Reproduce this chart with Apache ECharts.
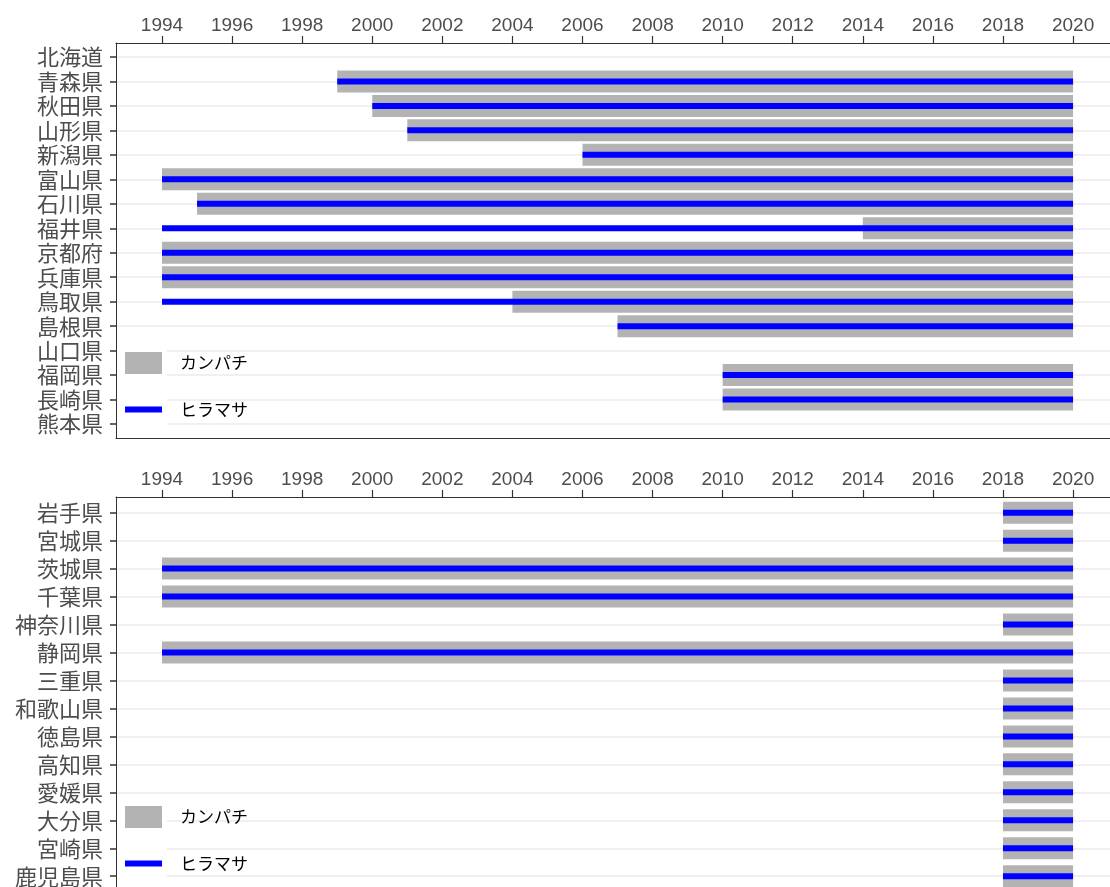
<!DOCTYPE html>
<html>
	<head>
		<meta charset="UTF-8">
		<title></title>
		<script src="https://cdn.jsdelivr.net/npm/echarts@6.0.0/dist/echarts.min.js"></script>
		<style>
			body { margin: 0; background: #fff; }
		</style>
	</head>
	<body>
		<div id="chart" style="width: 1110px; height: 887px;"></div>
		<script type="text/javascript">
			// 都道府県ごとの開始年（カンパチ・ヒラマサ）、終わりはどれも2020年
			var yearTicks = [1994, 1996, 1998, 2000, 2002, 2004, 2006, 2008, 2010, 2012, 2014, 2016, 2018, 2020];
			var endYear = 2020;

			var topPrefs = ['北海道', '青森県', '秋田県', '山形県', '新潟県', '富山県', '石川県', '福井県',
				'京都府', '兵庫県', '鳥取県', '島根県', '山口県', '福岡県', '長崎県', '熊本県'];
			var topKanpachi = [null, 1999, 2000, 2001, 2006, 1994, 1995, 2014, 1994, 1994, 2004, 2007, null, 2010, 2010, null];
			var topHiramasa = [null, 1999, 2000, 2001, 2006, 1994, 1995, 1994, 1994, 1994, 1994, 2007, null, 2010, 2010, null];

			var bottomPrefs = ['岩手県', '宮城県', '茨城県', '千葉県', '神奈川県', '静岡県', '三重県',
				'和歌山県', '徳島県', '高知県', '愛媛県', '大分県', '宮崎県', '鹿児島県'];
			var bottomKanpachi = [2018, 2018, 1994, 1994, 2018, 1994, 2018, 2018, 2018, 2018, 2018, 2018, 2018, 2018];
			var bottomHiramasa = [2018, 2018, 1994, 1994, 2018, 1994, 2018, 2018, 2018, 2018, 2018, 2018, 2018, 2018];

			var GRAY = '#B3B3B3';
			var BLUE = '#0000FF';
			var AXIS = '#333333';
			var TXT = '#4D4D4D';

			function toRanges(starts) {
				var out = [];
				for(var i = 0; i < starts.length; i++) {
					if(starts[i] != null) out.push([starts[i], endYear, i]);
				}
				return out;
			}

			function seq(n) {
				var a = [];
				for(var i = 0; i < n; i++) a.push(i);
				return a;
			}

			// 横棒は幅を固定ピクセルで描く
			function rangeRender(h) {
				return function(params, api) {
					var s = api.coord([api.value(0), api.value(2)]);
					var e = api.coord([api.value(1), api.value(2)]);
					return {
						type: 'rect',
						shape: { x: s[0], y: s[1] - h / 2, width: e[0] - s[0], height: h },
						style: { fill: api.visual('color') }
					};
				};
			}

			var xMin = 1992.687, xMax = 2021.054;

			function topXAxis(gi) {
				return {
					type: 'value', gridIndex: gi, position: 'top', min: xMin, max: xMax,
					axisLine: { show: true, onZero: false, lineStyle: { color: AXIS, width: 1 } },
					axisTick: { show: true, length: 7, customValues: yearTicks, lineStyle: { color: AXIS, width: 1.2 } },
					axisLabel: {
						customValues: yearTicks, margin: 8, color: TXT, fontSize: 19, fontFamily: 'Liberation Sans',
						formatter: function(v) { return String(Math.round(v)); }
					},
					splitLine: { show: false }
				};
			}

			function bottomXAxis(gi) {
				return {
					type: 'value', gridIndex: gi, position: 'bottom', min: xMin, max: xMax,
					axisLine: { show: true, onZero: false, lineStyle: { color: AXIS, width: 1 } },
					axisTick: { show: false }, axisLabel: { show: false }, splitLine: { show: false }
				};
			}

			function yAxis(gi, names, lo, hi) {
				return {
					type: 'value', gridIndex: gi, inverse: true, min: lo, max: hi,
					axisLine: { show: true, onZero: false, lineStyle: { color: AXIS, width: 1 } },
					axisTick: { show: true, length: 6, customValues: seq(names.length), lineStyle: { color: AXIS, width: 1.5 } },
					axisLabel: {
						customValues: seq(names.length), margin: 13, color: TXT, fontSize: 22,
						fontFamily: 'Noto Sans CJK JP',
						formatter: function(v) { return names[Math.round(v)]; }
					},
					splitLine: { show: true, lineStyle: { color: '#EBEBEB', width: 1.5 } }
				};
			}

			function legend(name, left, top, h) {
				return {
					selectedMode: false, left: left, top: top, padding: 0, itemWidth: 37, itemHeight: h,
					data: [{ name: name, icon: 'rect' }],
					textStyle: { color: '#000', fontSize: 17, fontFamily: 'Noto Sans CJK JP', padding: [0, 0, 0, 13] }
				};
			}

			function series(name, starts, h, color, gi) {
				return {
					type: 'custom', name: name, xAxisIndex: gi * 2, yAxisIndex: gi,
					renderItem: rangeRender(h), itemStyle: { color: color },
					encode: { x: [0, 1], y: 2 },
					data: toRanges(starts)
				};
			}

			var myChart = echarts.init(document.getElementById('chart'));
			myChart.setOption({
				animation: false,
				color: [GRAY, BLUE],
				grid: [
					{ left: 116, top: 43, width: 994, height: 395, outerBoundsMode: 'none' },
					{ left: 116, top: 497, width: 994, height: 396, outerBoundsMode: 'none' }
				],
				xAxis: [topXAxis(0), bottomXAxis(0), topXAxis(1), bottomXAxis(1)],
				yAxis: [
					yAxis(0, topPrefs, -0.57, 15.57),
					yAxis(1, bottomPrefs, -0.56, 13.6)
				],
				legend: [
					legend('カンパチ', 125, 352, 22),
					legend('ヒラマサ', 125, 401, 6),
					legend('カンパチ', 125, 806, 22),
					legend('ヒラマサ', 125, 855, 6)
				],
				// 凡例キーの白い背景
				graphic: [
					{ type: 'rect', z: 1, shape: { x: 117, y: 339, width: 50, height: 94 }, style: { fill: '#fff' } },
					{ type: 'rect', z: 1, shape: { x: 117, y: 797, width: 50, height: 95 }, style: { fill: '#fff' } }
				],
				series: [
					series('カンパチ', topKanpachi, 22, GRAY, 0),
					series('ヒラマサ', topHiramasa, 6, BLUE, 0),
					series('カンパチ', bottomKanpachi, 22, GRAY, 1),
					series('ヒラマサ', bottomHiramasa, 6, BLUE, 1)
				]
			});
		</script>
	</body>
</html>
